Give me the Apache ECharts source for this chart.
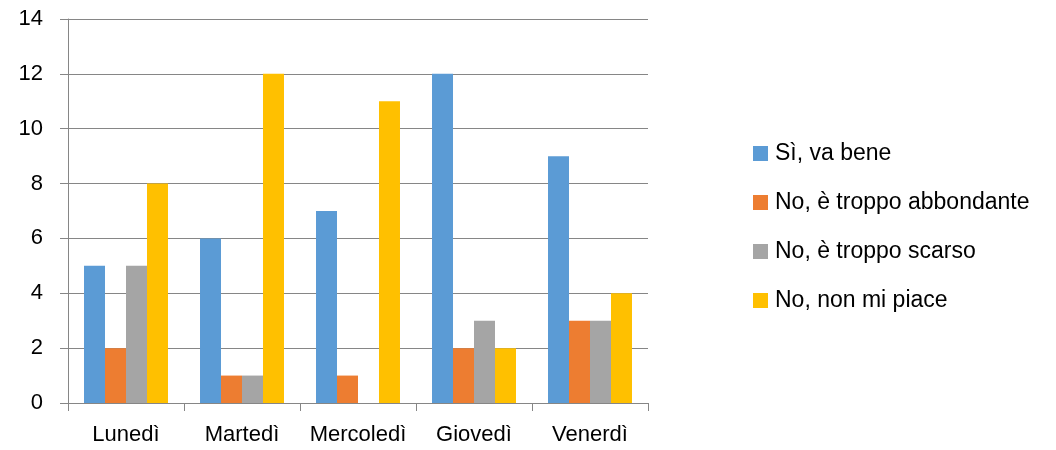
<!DOCTYPE html>
<html>
<head>
<meta charset="utf-8">
<script src="https://cdn.jsdelivr.net/npm/echarts@6/dist/echarts.min.js"></script>
<style>
  html, body { margin: 0; padding: 0; background: #fff; }
  #chart { width: 1056px; height: 450px; }
</style>
</head>
<body>
<div id="chart"></div>
<script>
const giorni = ['Lunedì', 'Martedì', 'Mercoledì', 'Giovedì', 'Venerdì'];
const siVaBene = [5, 6, 7, 12, 9];
const troppoAbbondante = [2, 1, 1, 2, 3];
const troppoScarso = [5, 1, 0, 3, 3];
const nonMiPiace = [8, 12, 11, 2, 4];
const yTicks = [0, 2, 4, 6, 8, 10, 12, 14];

const font = 'Liberation Sans';
const axisGrey = '#868686';

const chart = echarts.init(document.getElementById('chart'));

function barra(nome, valori, colore) {
    return {
        name: nome,
        type: 'bar',
        data: valori,
        barGap: '0%',
        barCategoryGap: '27.6%',
        itemStyle: { color: colore },
        emphasis: { disabled: true }
    };
}

let option = {
    animation: false,
    textStyle: { fontFamily: font },
    grid: { left: 68, right: 408, top: 19, bottom: 47 },
    legend: {
        orient: 'vertical',
        left: 748,
        top: 137,
        icon: 'rect',
        itemWidth: 15,
        itemHeight: 15,
        itemGap: 26,
        selectedMode: false,
        textStyle: { fontFamily: font, fontSize: 23, color: '#000', lineHeight: 22, padding: [0, 0, 0, 2] }
    },
    xAxis: {
        type: 'category',
        data: giorni,
        axisLine: { lineStyle: { color: axisGrey, width: 1 } },
        axisTick: { show: true, interval: 0, length: 8, lineStyle: { color: axisGrey } },
        axisLabel: { interval: 0, hideOverlap: false, margin: 21, fontSize: 22, color: '#000', fontFamily: font }
    },
    yAxis: {
        type: 'value',
        min: yTicks[0],
        max: yTicks[yTicks.length - 1],
        interval: 2,
        axisLine: { show: true, lineStyle: { color: axisGrey, width: 1 } },
        axisTick: { show: true, length: 8, lineStyle: { color: axisGrey } },
        axisLabel: { margin: 25, fontSize: 22, color: '#000', fontFamily: font },
        splitLine: { lineStyle: { color: axisGrey, width: 1 } }
    },
    series: [
        barra('Sì, va bene', siVaBene, '#5B9BD5'),
        barra('No, è troppo abbondante', troppoAbbondante, '#ED7D31'),
        barra('No, è troppo scarso', troppoScarso, '#A5A5A5'),
        barra('No, non mi piace', nonMiPiace, '#FFC000')
    ]
};

chart.setOption(option);
</script>
</body>
</html>
